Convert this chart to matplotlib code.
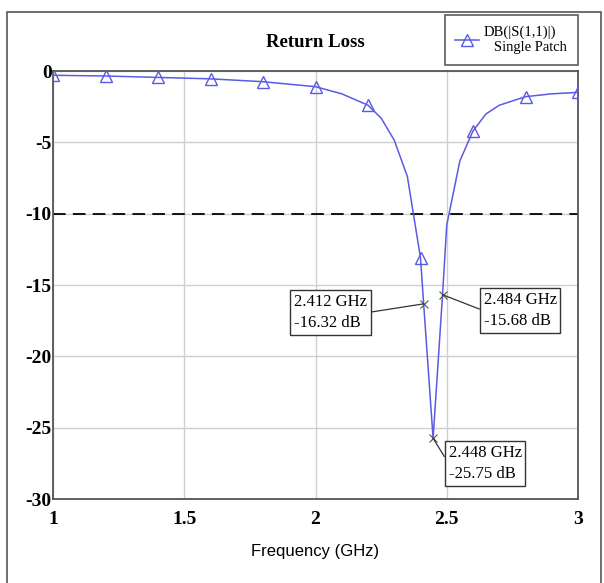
import matplotlib.pyplot as plt
from matplotlib.patches import Rectangle

plt.rcParams['axes.unicode_minus'] = False

# simulated S11 sweep (GHz, dB)
freq = [1.0, 1.2, 1.4, 1.6, 1.8, 2.0, 2.1, 2.2, 2.25, 2.3, 2.35, 2.4,
        2.412, 2.448, 2.484, 2.5, 2.55, 2.6, 2.65, 2.7, 2.8, 2.9, 3.0]
s11_db = [-0.3, -0.35, -0.45, -0.55, -0.75, -1.1, -1.6, -2.4, -3.3, -4.85, -7.4, -13.1,
          -16.32, -25.75, -15.68, -10.8, -6.3, -4.2, -3.0, -2.4, -1.8, -1.6, -1.5]
marker_freqs = [1.0, 1.2, 1.4, 1.6, 1.8, 2.0, 2.2, 2.4, 2.6, 2.8, 3.0]

# marker readouts: (freq, dB, label x, label y, side)
readouts = [
    (2.412, -16.32, 1.918, -16.94, 'left'),
    (2.484, -15.68, 2.64, -16.8, 'right'),
    (2.448, -25.75, 2.507, -27.5, 'right'),
]

x_ticks = [1, 1.5, 2, 2.5, 3]
x_tick_labels = ['1', '1.5', '2', '2.5', '3']
y_ticks = [0, -5, -10, -15, -20, -25, -30]

serif = 'Liberation Serif'

fig = plt.figure(figsize=(6.04, 5.83), dpi=100)
ax = fig.add_axes([53 / 604, 1 - 499 / 583, 525 / 604, 428 / 583])

# outer frame
fig.patches.append(Rectangle((7 / 604, -0.01), 594 / 604, 1 - 12 / 583 + 0.01,
                             transform=fig.transFigure, fill=False,
                             edgecolor='#555555', linewidth=1.2))

idx = [freq.index(f) for f in marker_freqs]
line, = ax.plot(freq, s11_db, color='#5a5ae6', linewidth=1.1, marker='^',
                markevery=idx, markersize=8, markerfacecolor='none',
                markeredgecolor='#5a5ae6', markeredgewidth=1.0, zorder=3)

ax.axhline(-10, color='black', linestyle=(0, (7, 4)), linewidth=1.3, zorder=2)

for f, db, tx, ty, side in readouts:
    ax.plot(f, db, marker='x', color='#555555', markersize=6, markeredgewidth=0.8, zorder=4)
    ax.annotate(f'{f:.3f} GHz\n{db:.2f} dB', xy=(f, db), xytext=(tx, ty),
                ha='left', va='center', fontsize=12, family=serif,
                linespacing=1.45,
                bbox=dict(boxstyle='square,pad=0.22', facecolor='white',
                          edgecolor='#333333', linewidth=1.0),
                arrowprops=dict(arrowstyle='-', color='#333333', linewidth=0.9,
                                shrinkA=0, shrinkB=0,
                                relpos=(1, 0.5) if side == 'left' else (0, 0.5)),
                zorder=5)

ax.set_xlim(1, 3)
ax.set_ylim(-30, 0)
ax.set_xticks(x_ticks)
ax.set_xticklabels(x_tick_labels)
ax.set_yticks(y_ticks)
ax.grid(True, color='#cfcfcf', linewidth=1.0)
ax.tick_params(length=0, pad=1, labelsize=14)
for lab in ax.get_xticklabels() + ax.get_yticklabels():
    lab.set_family(serif)
    lab.set_fontweight('bold')
ax.tick_params(axis='x', pad=9)
for sp in ax.spines.values():
    sp.set_color('#555555')
    sp.set_linewidth(1.3)

ax.set_title('Return Loss', fontsize=13.5, fontweight='bold', family=serif, pad=17)
ax.set_xlabel('Frequency (GHz)', fontsize=12, family='Liberation Sans', labelpad=11)

leg = fig.legend([line], ['DB(|S(1,1)|)\n   Single Patch'], loc='upper right',
                 bbox_to_anchor=(578 / 604, 1 - 15 / 583), frameon=True,
                 fancybox=False, prop={'family': serif, 'size': 10.5},
                 handlelength=1.6, borderpad=0.75, handletextpad=0.3,
                 borderaxespad=0)
leg.get_frame().set_edgecolor('#333333')
leg.get_frame().set_linewidth(1.2)

fig.savefig('out.png', dpi=100)
